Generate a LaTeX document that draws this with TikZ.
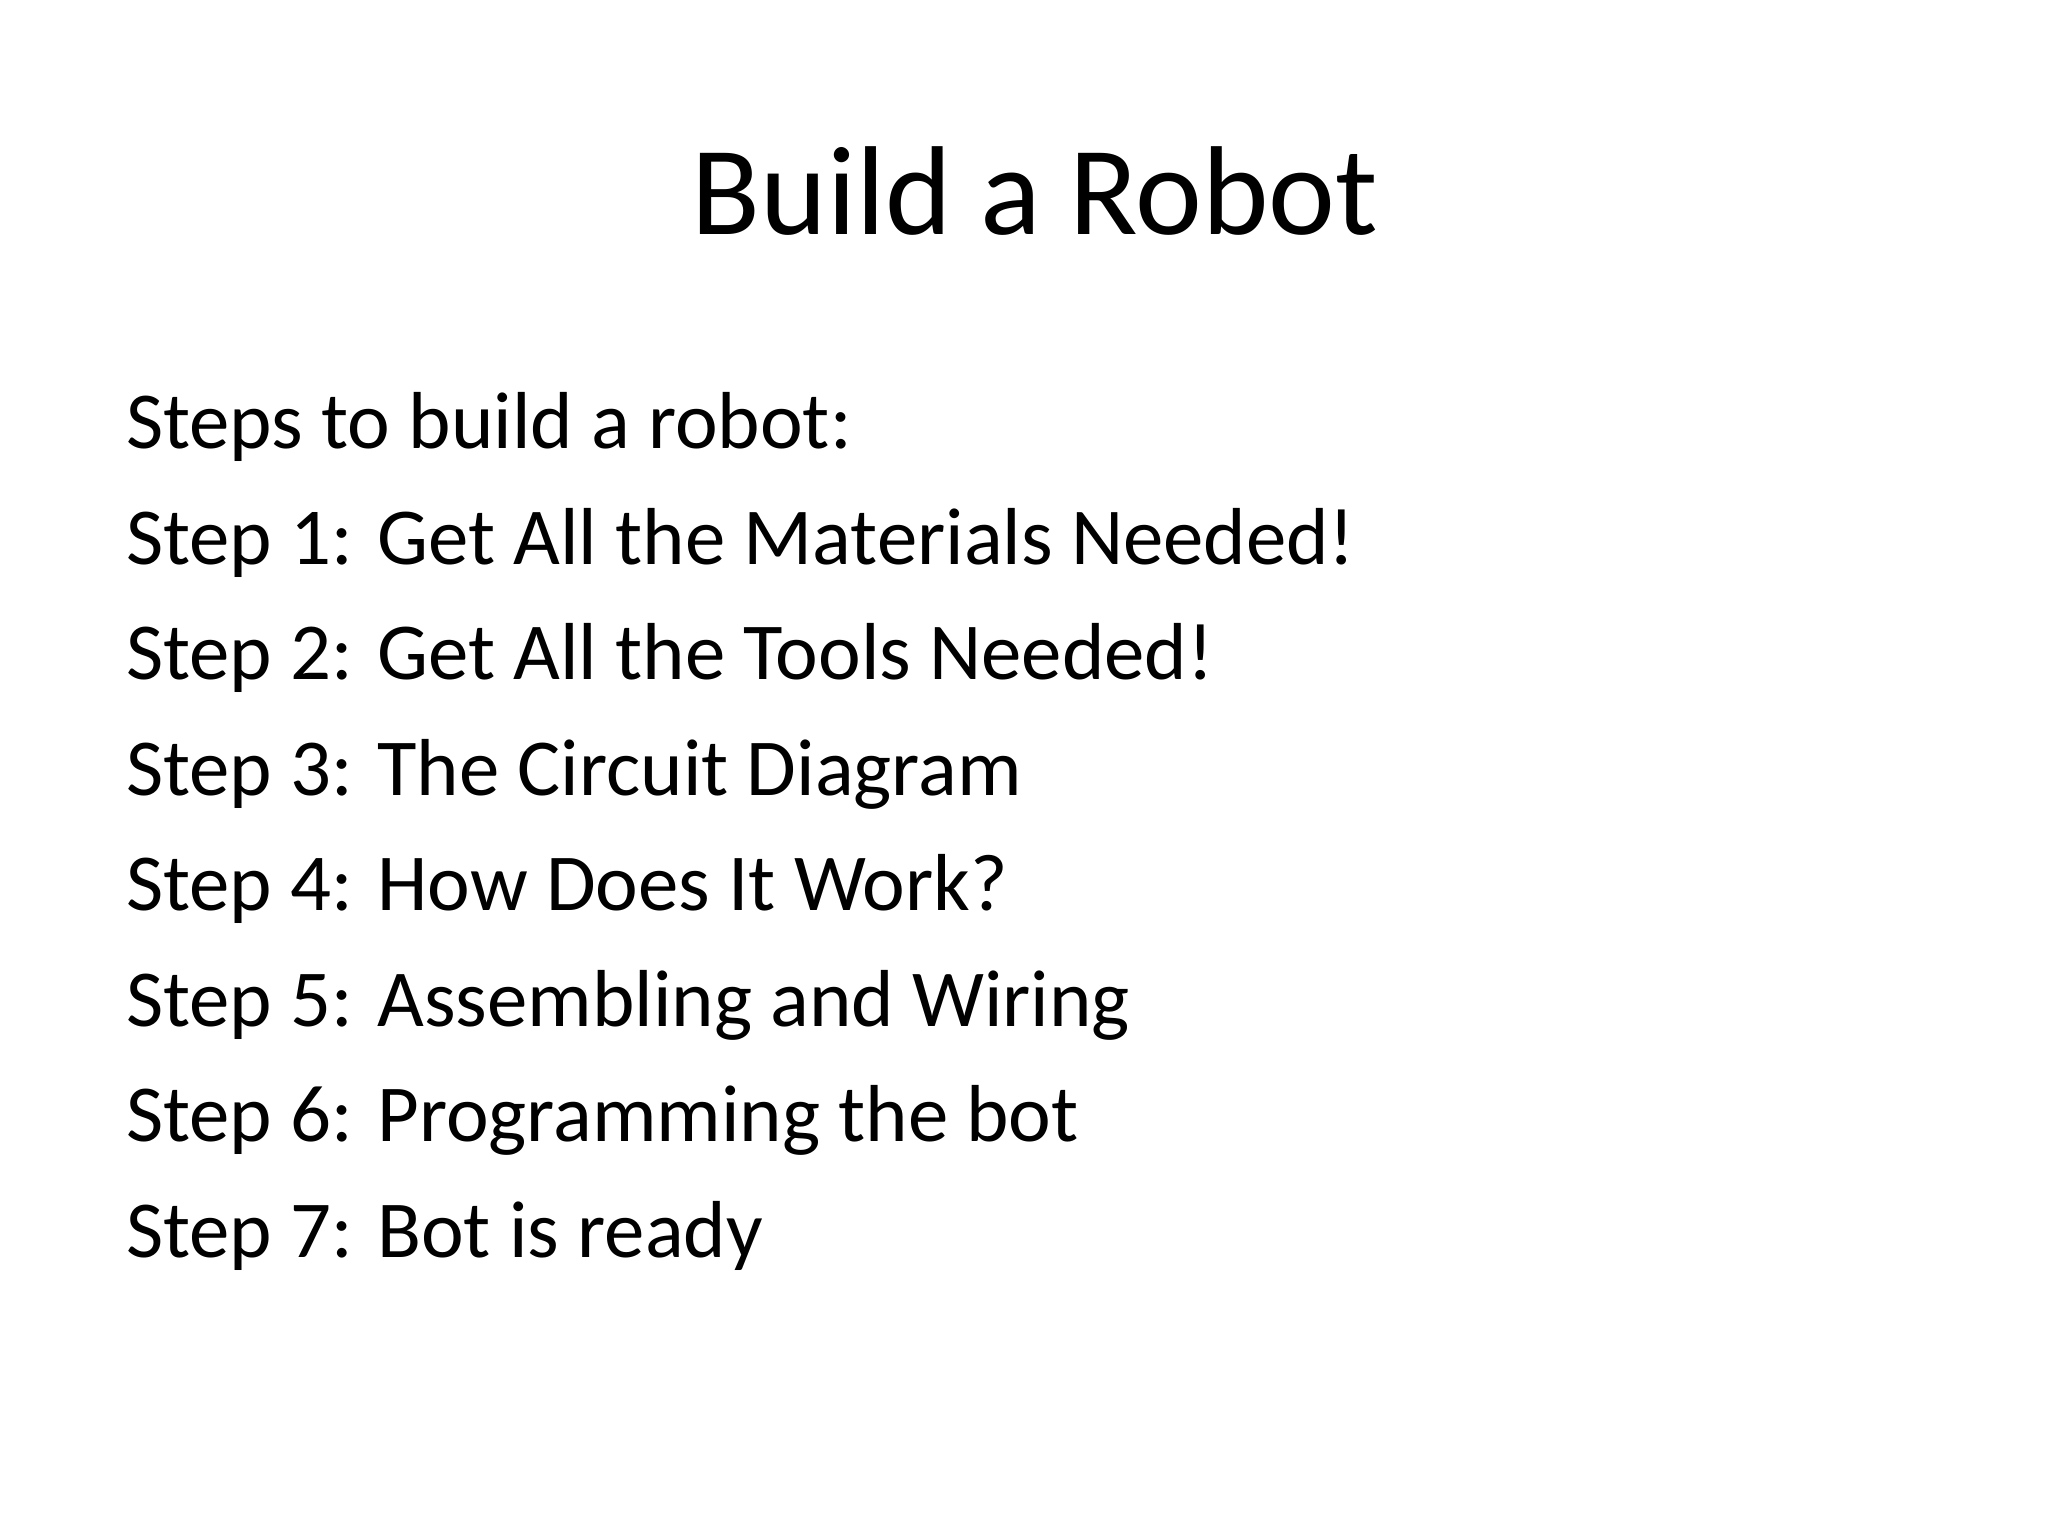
\documentclass[tikz,border=0pt]{standalone}
\usepackage{fontspec}
\setmainfont{Carlito}
\begin{document}
\begin{tikzpicture}[line/.style={anchor=base west,inner sep=0pt,font=\fontsize{23}{27}\selectfont}]
\useasboundingbox (0,0) rectangle (20.48,-15.36);
\node[anchor=base,inner sep=0pt,font=\fontsize{36}{42}\selectfont] (title) at (10.35,-2.35) {Build a Robot};
\node[line] (l0) at (1.254,-4.487) {Steps to build a robot:};
\node[line] (l1) at (1.254,-5.642) {Step 1: Get All the Materials Needed!};
\node[line] (l2) at (1.254,-6.797) {Step 2: Get All the Tools Needed!};
\node[line] (l3) at (1.254,-7.952) {Step 3: The Circuit Diagram};
\node[line] (l4) at (1.254,-9.107) {Step 4: How Does It Work?};
\node[line] (l5) at (1.254,-10.262) {Step 5: Assembling and Wiring};
\node[line] (l6) at (1.254,-11.417) {Step 6: Programming the bot};
\node[line] (l7) at (1.254,-12.572) {Step 7: Bot is ready};
\end{tikzpicture}
\end{document}
